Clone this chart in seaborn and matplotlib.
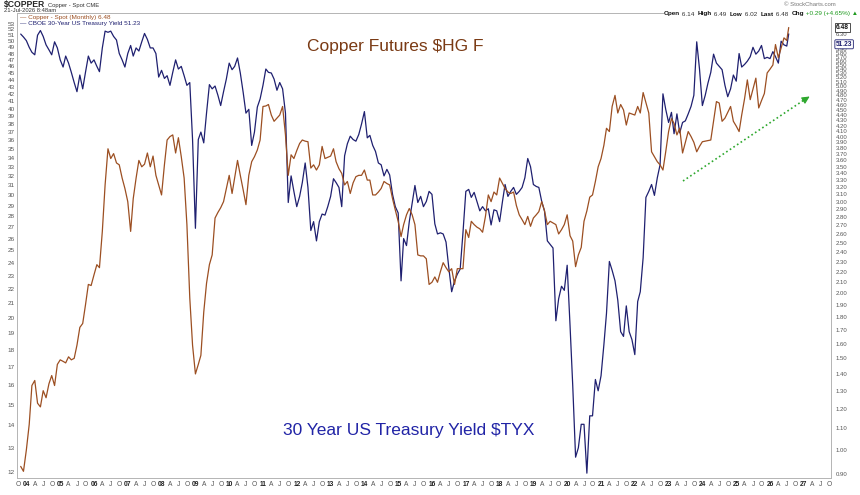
import matplotlib
matplotlib.use("Agg")
import matplotlib.pyplot as plt
import matplotlib.ticker as mticker
from matplotlib.lines import Line2D
import numpy as np
import pandas as pd
import seaborn as sns

sns.set_style("white")
plt.rcParams["font.family"] = ["Liberation Sans", "DejaVu Sans"]

BROWN = "#9c4f22"
NAVY = "#1f2070"
GRID = "#b5b5b5"
LBL = "#555555"

# monthly closes, Oct 2003 .. Jul 2026 (last bar = 21-Jul-2026)
copper = [
    0.93, 0.91, 1.00,
    1.12, 1.33, 1.36, 1.23, 1.21, 1.30, 1.26, 1.34, 1.39, 1.33, 1.46, 1.49,
    1.48, 1.47, 1.51, 1.49, 1.50, 1.59, 1.72, 1.75, 1.90, 2.08, 2.07, 2.17,
    2.27, 2.24, 2.63, 3.23, 3.79, 3.63, 3.71, 3.56, 3.53, 3.33, 3.18, 3.00,
    2.63, 3.04, 3.33, 3.60, 3.50, 3.54, 3.72, 3.50, 3.67, 3.37, 3.23, 3.09,
    3.53, 3.94, 4.00, 4.03, 3.72, 3.98, 3.66, 3.33, 2.71, 1.96, 1.59, 1.40,
    1.46, 1.52, 1.84, 2.09, 2.27, 2.37, 2.79, 2.86, 2.92, 3.00, 3.18, 3.37,
    3.11, 3.33, 3.60, 3.37, 3.16, 2.96, 3.37, 3.58, 3.66, 3.77, 3.94, 4.57,
    4.58, 4.61, 4.40, 4.28, 4.34, 4.40, 4.57, 4.03, 3.37, 3.69, 3.63, 3.76,
    3.88, 3.94, 3.92, 3.91, 3.48, 3.53, 3.45, 3.53, 3.83, 3.63, 3.65, 3.67,
    3.79, 3.58, 3.47, 3.40, 3.23, 3.28, 3.11, 3.26, 3.35, 3.37, 3.37, 3.45,
    3.30, 3.30, 3.09, 3.09, 3.13, 3.18, 3.28, 3.25, 3.23, 3.04, 2.89, 2.75,
    2.57, 2.71, 2.83, 2.91, 2.83, 2.71, 2.37, 2.36, 2.36, 2.33, 2.08, 2.10,
    2.15, 2.10, 2.20, 2.29, 2.24, 2.20, 2.23, 2.08, 2.23, 2.23, 2.23, 2.65,
    2.56, 2.75, 2.71, 2.68, 2.66, 2.62, 2.81, 3.09, 3.00, 3.13, 3.09, 3.33,
    3.25, 3.18, 3.13, 3.11, 3.13, 2.95, 2.83, 2.77, 2.71, 2.81, 2.69, 2.79,
    2.83, 2.87, 3.00, 2.88, 2.71, 2.75, 2.73, 2.71, 2.60, 2.65, 2.71, 2.83,
    2.58, 2.52, 2.25, 2.37, 2.45, 2.75, 2.88, 3.06, 3.09, 3.28, 3.50, 3.63,
    3.85, 4.15, 4.09, 4.57, 4.80, 4.44, 4.61, 4.50, 4.21, 4.44, 4.42, 4.40,
    4.57, 4.44, 4.86, 4.65, 4.44, 3.74, 3.66, 3.58, 3.53, 3.45, 3.74, 4.09,
    4.33, 4.24, 4.03, 4.15, 3.72, 3.90, 4.09, 4.00, 3.90, 3.74, 3.83, 3.91,
    3.92, 3.93, 3.94, 4.29, 4.67, 4.64, 4.28, 4.34, 4.45, 4.57, 4.28, 4.19,
    4.09, 4.40, 4.73, 5.14, 4.71, 4.94, 5.18, 4.54, 4.69, 4.84, 5.30, 5.39,
    5.49, 6.01, 5.67, 5.92, 6.19, 6.12, 6.48,
]

tyx = [
    51.2, 50.7, 50.1,
    49.0, 48.2, 47.8, 51.0, 51.8, 50.8, 49.4, 48.6, 47.8, 49.9, 48.9, 47.0,
    45.9, 47.6, 46.5, 45.1, 43.6, 42.3, 44.7, 42.7, 45.1, 47.6, 46.5, 47.0,
    46.0, 45.2, 48.9, 51.7, 51.5, 51.7, 50.8, 50.2, 48.0, 47.0, 45.9, 48.0,
    49.3, 47.6, 48.9, 48.4, 49.9, 51.3, 50.3, 48.9, 48.9, 48.0, 44.4, 45.4,
    44.2, 44.6, 43.2, 45.1, 47.0, 45.6, 46.0, 44.6, 43.2, 43.6, 36.1, 26.9,
    36.1, 37.0, 35.7, 39.4, 43.3, 42.7, 43.1, 41.8, 40.4, 42.3, 44.1, 46.5,
    45.5, 46.0, 47.3, 45.0, 42.2, 39.4, 39.9, 35.4, 37.0, 40.2, 41.3, 43.2,
    45.6, 45.1, 45.0, 44.1, 42.5, 43.6, 42.7, 39.4, 29.3, 32.0, 30.4, 28.9,
    29.9, 31.3, 33.4, 30.8, 26.7, 27.5, 25.8, 27.5, 28.2, 28.1, 28.9, 29.9,
    31.7, 31.3, 30.8, 28.9, 34.2, 35.6, 36.5, 36.1, 35.9, 36.7, 38.0, 39.6,
    36.3, 36.6, 35.4, 34.7, 33.4, 33.2, 32.0, 32.7, 32.1, 30.1, 28.9, 28.3,
    22.6, 26.0, 25.4, 27.5, 29.2, 31.0, 29.3, 29.9, 28.9, 29.4, 30.4, 30.1,
    27.3, 26.4, 26.5, 26.4, 25.7, 23.6, 21.8, 22.6, 23.1, 23.5, 26.5, 30.4,
    30.6, 29.8, 30.3, 29.4, 28.5, 28.9, 28.5, 28.7, 27.2, 28.6, 28.5, 27.5,
    29.4, 31.1, 29.9, 30.4, 30.8, 30.1, 30.4, 30.8, 31.8, 33.9, 33.0, 31.1,
    30.9, 30.8, 29.4, 28.5, 25.8, 25.5, 25.2, 19.8, 21.3, 22.2, 21.9, 23.8,
    19.5, 16.0, 12.6, 13.0, 14.05, 14.05, 11.95, 14.45, 14.45, 16.3, 15.7, 16.5,
    18.3, 20.3, 24.1, 23.4, 22.6, 21.2, 19.1, 18.8, 20.8, 19.1, 18.6, 17.7,
    21.1, 21.8, 24.4, 29.8, 30.4, 31.1, 30.0, 31.8, 33.2, 42.0, 39.9, 38.2,
    39.5, 36.8, 39.3, 36.9, 38.2, 38.4, 39.3, 40.3, 41.8, 49.9, 45.6, 40.4,
    41.8, 43.5, 45.1, 47.9, 46.5, 46.0, 45.5, 43.2, 41.6, 42.7, 44.7, 43.8,
    48.0, 45.9, 46.3, 46.8, 47.5, 49.0, 47.9, 48.4, 49.3, 47.2, 47.4, 47.2,
    48.3, 47.5, 46.5, 50.0, 49.4, 49.2, 51.23,
]

tyx_ticks = list(range(12, 54))
# 0.90 .. 5.90 every 0.10, then 6.30 (6.00-6.20 sit under the 51.23 box)
copper_ticks = [round(0.9 + 0.1 * i, 2) for i in range(51)] + [6.30]

# bars are stamped at month end, the last one on the chart date
dates = pd.date_range("2003-10-01", periods=len(copper), freq="MS") + pd.offsets.MonthEnd(0)
dates = dates[:-1].append(pd.DatetimeIndex([pd.Timestamp("2026-07-21")]))
df = pd.DataFrame({"date": dates, "copper": copper, "tyx": tyx})

W, H = 860, 495
fig = plt.figure(figsize=(W / 100, H / 100), dpi=100)
ax = fig.add_axes([17 / W, 1 - 478 / H, (831 - 17) / W, (478 - 13) / H])
ax2 = ax.twinx()

sns.lineplot(data=df, x="date", y="tyx", ax=ax, color=NAVY, linewidth=0.9)
sns.lineplot(data=df, x="date", y="copper", ax=ax2, color=BROWN, linewidth=0.9)

ax.set_yscale("log")
ax.set_ylim(11.76, 54.9)
ax2.set_yscale("log")
ax2.set_ylim(0.8835, 6.91)

ax.yaxis.set_major_locator(mticker.FixedLocator(tyx_ticks))
ax.yaxis.set_major_formatter(mticker.FixedFormatter([str(v) for v in tyx_ticks]))
ax.yaxis.set_minor_locator(mticker.NullLocator())
ax2.yaxis.set_major_locator(mticker.FixedLocator(copper_ticks))
ax2.yaxis.set_major_formatter(mticker.FixedFormatter([f"{v:.2f}" for v in copper_ticks]))
ax2.yaxis.set_minor_locator(mticker.NullLocator())

ax.tick_params(axis="y", length=0, pad=1.5, labelsize=4.6, labelcolor=LBL)
ax2.tick_params(axis="y", length=0, pad=3.5, labelsize=4.3, labelcolor=LBL)

# quarterly month labels: O 04 A J O 05 ...
qticks = pd.date_range("2003-10-01", "2027-10-01", freq="QS")
qlabels = [f"{d.year % 100:02d}" if d.month == 1 else {4: "A", 7: "J", 10: "O"}[d.month]
           for d in qticks]
ax.set_xticks(qticks)
ax.set_xticklabels(qlabels)
for lab, d in zip(ax.get_xticklabels(), qticks):
    if d.month == 1:
        lab.set_fontweight("bold")
        lab.set_color("#222222")
    else:
        lab.set_color(LBL)
ax.tick_params(axis="x", length=0, pad=2.5, labelsize=4.8)
ax.set_xlim(pd.Timestamp("2003-09-21"), pd.Timestamp("2027-10-21"))

for a in (ax, ax2):
    a.set_xlabel("")
    a.set_ylabel("")
    for s in a.spines.values():
        s.set_color(GRID)
        s.set_linewidth(0.6)

# last-value boxes on the right scale
ax2.annotate("6.48", xy=(1, 6.48), xycoords=ax2.get_yaxis_transform(),
             xytext=(3.5, 0), textcoords="offset points", ha="left", va="center",
             fontsize=4.8, fontweight="bold", color="#111111", annotation_clip=False,
             bbox=dict(boxstyle="square,pad=0.15", fc="white", ec="#333333", lw=0.6))
ax2.annotate("51.23", xy=(1, 51.23), xycoords=ax.get_yaxis_transform(),
             xytext=(3.5, -7.5), textcoords="offset points", ha="left", va="center",
             fontsize=4.8, fontweight="bold", color=NAVY, annotation_clip=False,
             bbox=dict(boxstyle="round,pad=0.15", fc="white", ec=NAVY, lw=0.6))

renderer = fig.canvas.get_renderer()

# header
head = fig.text(4 / W, 1 - 5 / H, r"\$COPPER", fontsize=6.2, fontweight="bold", va="center")
hx = 4 + head.get_window_extent(renderer).width + 3
fig.text(hx / W, 1 - 5 / H, "Copper - Spot CME", fontsize=4.2, va="center", color="#333333")
fig.text(4 / W, 1 - 11 / H, "21-Jul-2026 8:48am", fontsize=4.2, va="center", color="#333333")
fig.text(20 / W, 1 - 17 / H, "\u2014 Copper - Spot (Monthly) 6.48", fontsize=4.6,
         va="center", color=BROWN)
fig.text(20 / W, 1 - 23 / H, "\u2014 CBOE 30-Year US Treasury Yield 51.23", fontsize=4.6,
         va="center", color=NAVY)
fig.text(836 / W, 1 - 5 / H, "\u00a9 StockCharts.com", fontsize=4.3, ha="right",
         va="center", color="#777777")

pieces = [("Open", "bold", "#111111"), (" 6.14  ", "normal", "#333333"),
          ("High", "bold", "#111111"), (" 6.49  ", "normal", "#333333"),
          ("Low", "bold", "#111111"), (" 6.02  ", "normal", "#333333"),
          ("Last", "bold", "#111111"), (" 6.48  ", "normal", "#333333"),
          ("Chg", "bold", "#111111"), (" +0.29 (+4.65%) \u25b2", "normal", "#1e9a1e")]
xpix = 664
for txt, wt, col in pieces:
    t = fig.text(xpix / W, 1 - 14 / H, txt, fontsize=4.6, fontweight=wt, color=col,
                 va="center", ha="left",
                 bbox=dict(boxstyle="square,pad=0.05", fc="white", ec="none"))
    xpix += t.get_window_extent(renderer).width

# chart annotations
fig.text(307 / W, 1 - 47 / H, r"Copper Futures \$HG F", fontsize=12.5,
         color="#7a3a14", va="center")
fig.text(283 / W, 1 - 430 / H, r"30 Year US Treasury Yield \$TYX", fontsize=12.5,
         color="#2124a6", va="center")

fig.add_artist(Line2D([683 / W, 804 / W], [1 - 181 / H, 1 - 100 / H],
                      transform=fig.transFigure, color="#2ea82e", lw=1.2,
                      linestyle=(0, (1, 1.6))))
ax.annotate("", xy=(812 / W, 1 - 95 / H), xytext=(801 / W, 1 - 102 / H),
            xycoords="figure fraction", textcoords="figure fraction",
            arrowprops=dict(arrowstyle="-|>,head_length=0.45,head_width=0.22",
                            color="#2ea82e", lw=0.8))

fig.savefig("out.png", dpi=100)
